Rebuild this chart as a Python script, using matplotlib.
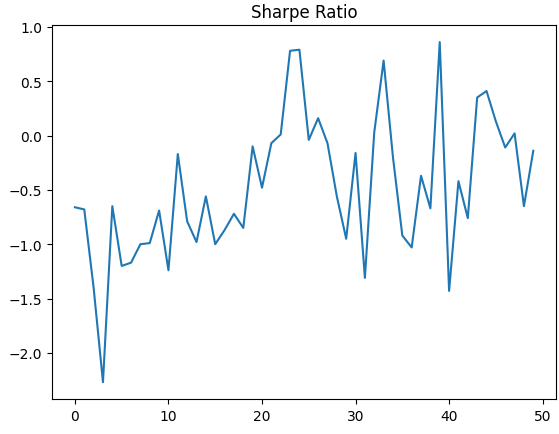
import numpy as np
import matplotlib
matplotlib.use("Agg")
import matplotlib.pyplot as plt

sharpe = [-0.66, -0.68, -1.40, -2.27, -0.65, -1.20, -1.17, -1.00, -0.99, -0.69,
          -1.24, -0.17, -0.79, -0.98, -0.56, -1.00, -0.87, -0.72, -0.85, -0.10,
          -0.48, -0.07, 0.01, 0.78, 0.79, -0.04, 0.16, -0.07, -0.56, -0.95,
          -0.16, -1.31, 0.03, 0.69, -0.20, -0.92, -1.03, -0.37, -0.67, 0.86,
          -1.43, -0.42, -0.76, 0.35, 0.41, 0.13, -0.11, 0.02, -0.65, -0.14]

fig, ax = plt.subplots(figsize=(5.59, 4.35), dpi=100)
fig.subplots_adjust(left=0.093, right=0.995, top=0.94, bottom=0.08)
ax.plot(np.arange(len(sharpe)), sharpe)
ax.set_title("Sharpe Ratio")
fig.savefig("out.png", dpi=100)
